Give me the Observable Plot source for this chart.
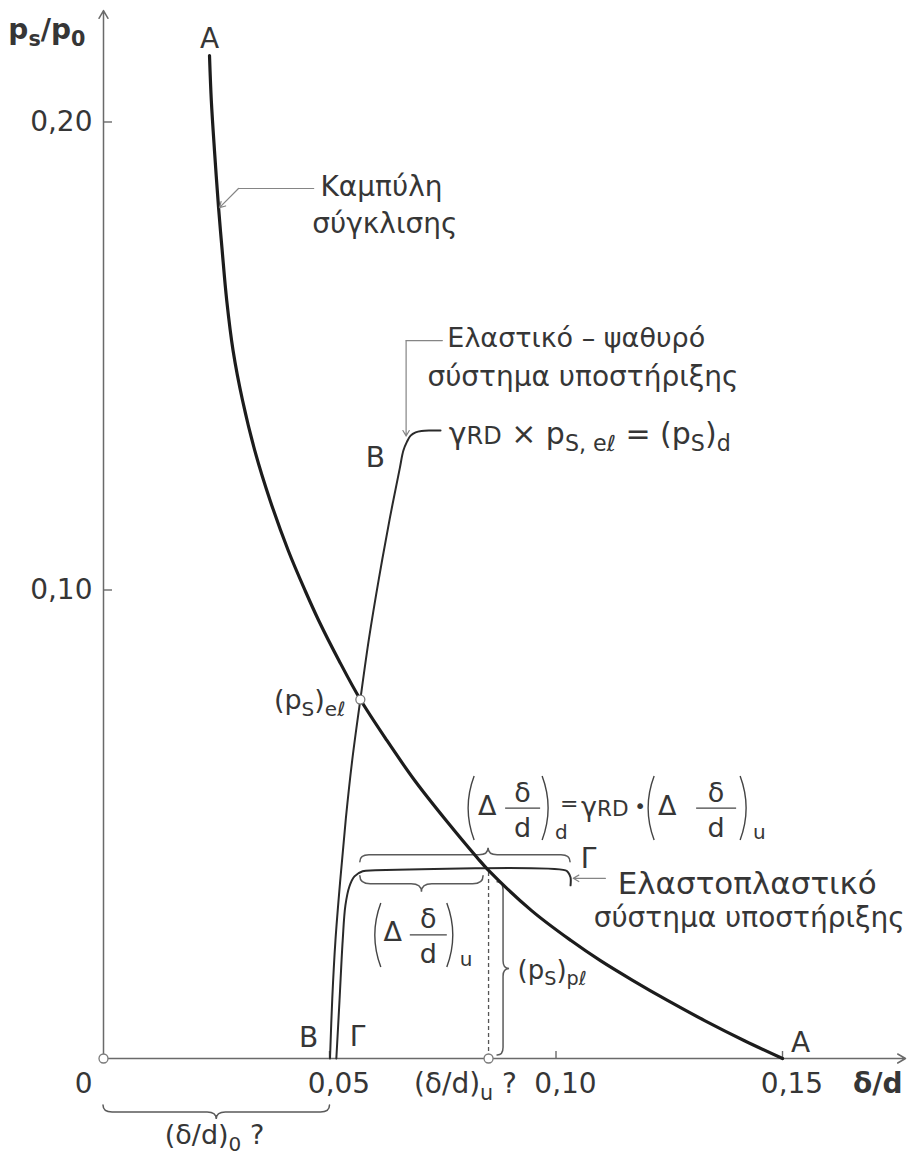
<!DOCTYPE html>
<html lang="el">
<head>
<meta charset="utf-8">
<title>Καμπύλη σύγκλισης</title>
<script src="https://cdn.jsdelivr.net/npm/d3@7"></script>
<script src="https://cdn.jsdelivr.net/npm/@observablehq/plot@0.6"></script>
<style>
  html, body { margin: 0; padding: 0; background: #fff; }
  #chart svg { display: block; }
</style>
</head>
<body>
<div id="chart"></div>
<script>
// Convergence curve A–A: support pressure ps/p0 against convergence δ/d
const convergenceX = [0.0234, 0.0238, 0.0245, 0.0254, 0.0262, 0.0272, 0.0286, 0.0307, 0.0334, 0.0368, 0.0408, 0.0445, 0.0475, 0.0520, 0.0567, 0.0626, 0.0687, 0.0756, 0.0825, 0.0850, 0.0945, 0.1032, 0.1097, 0.1168, 0.1245, 0.1327, 0.1415, 0.1499];
const convergenceY = [0.2143, 0.2047, 0.1940, 0.1818, 0.1726, 0.1620, 0.1513, 0.1406, 0.1299, 0.1192, 0.1085, 0.1000, 0.0936, 0.0850, 0.0767, 0.0679, 0.0594, 0.0509, 0.0429, 0.0402, 0.0316, 0.0252, 0.0209, 0.0167, 0.0124, 0.0081, 0.0038, 0.0000];

// Elastic–brittle support, branch B
const brittleX = [0.0500, 0.0505, 0.0512, 0.0523, 0.0535, 0.0549, 0.0567, 0.0586, 0.0608, 0.0632, 0.0654, 0.0662, 0.0670, 0.0678, 0.0689, 0.0702, 0.0722, 0.0744];
const brittleY = [0.0000, 0.0128, 0.0252, 0.0385, 0.0513, 0.0637, 0.0767, 0.0897, 0.1026, 0.1154, 0.1261, 0.1299, 0.1318, 0.1331, 0.1338, 0.1341, 0.1342, 0.1342];

// Elastoplastic support, branch Γ
const plasticX = [0.0514, 0.0521, 0.0528, 0.0534, 0.0543, 0.0554, 0.0572, 0.0600, 0.1020, 0.1026, 0.1031, 0.1031];
const plasticY = [0.0000, 0.0124, 0.0252, 0.0327, 0.0368, 0.0389, 0.0400, 0.0402, 0.0402, 0.0397, 0.0387, 0.0370];

// Characteristic points
const elasticPoint = [0.0567, 0.0767];   // (ps)eℓ
const ultimateDelta = 0.0850;            // (δ/d)u
const plasticPressure = 0.0402;          // (ps)pℓ
const designDelta = 0.1031;              // end of the Γ plateau
const initialDelta = 0.05;               // (δ/d)0

const xTicks = [0.05, 0.10, 0.15];
const xTickLabels = ["0,05", "0,10", "0,15"];
const yTicks = [0.10, 0.20];
const yTickLabels = ["0,10", "0,20"];

const xMax = 0.17704, yMax = 0.22393;

const zip = (xs, ys) => xs.map((x, i) => ({x, y: ys[i]}));
const convergence = zip(convergenceX, convergenceY);
const brittle = zip(brittleX, brittleY);
const plastic = zip(plasticX, plasticY);

const INK = "#363636";
const AXIS = "#6a6a6a";
const LEADER = "#858585";
const TEXT = 28;

const note = (s, x, y, o = {}) =>
  Plot.text([s], {x, y, text: d => d, fontSize: TEXT, fill: INK, textAnchor: "start", ...o});

// short inward ticks on both axes
function ticks(index, {x, y}) {
  const g = d3.create("svg:g").attr("stroke", AXIS).attr("stroke-width", 1.4);
  for (const v of xTicks) g.append("path").attr("d", `M${x(v)},${y(0)}v-7`);
  for (const v of yTicks) g.append("path").attr("d", `M${x(0)},${y(v)}h9`);
  return g.node();
}

// curly braces measuring the intervals on the diagram
function braces(index, {x, y}) {
  const g = d3.create("svg:g")
    .attr("fill", "none").attr("stroke", "#5a5a5a")
    .attr("stroke-width", 1.5).attr("stroke-linecap", "round");
  const hb = (x1, x2, xt, y0, h) => {
    const q = h / 2, r = Math.abs(q) * 1.3;
    g.append("path").attr("d",
      `M${x1},${y0}Q${x1},${y0 + q} ${x1 + r},${y0 + q}L${xt - r},${y0 + q}` +
      `Q${xt},${y0 + q} ${xt},${y0 + h}Q${xt},${y0 + q} ${xt + r},${y0 + q}` +
      `L${x2 - r},${y0 + q}Q${x2},${y0 + q} ${x2},${y0}`);
  };
  const vb = (y1, y2, yt, x0, h) => {
    const q = h / 2, r = Math.abs(q) * 1.3;
    g.append("path").attr("d",
      `M${x0},${y1}Q${x0 + q},${y1} ${x0 + q},${y1 + r}L${x0 + q},${yt - r}` +
      `Q${x0 + q},${yt} ${x0 + h},${yt}Q${x0 + q},${yt} ${x0 + q},${yt + r}` +
      `L${x0 + q},${y2 - r}Q${x0 + q},${y2} ${x0},${y2}`);
  };
  const ex = x(elasticPoint[0]);
  const xu = x(ultimateDelta);
  const yp = y(plasticPressure);
  hb(x(0), x(initialDelta), (x(0) + x(initialDelta)) / 2, y(0) + 47, 14);
  hb(ex, x(designDelta), xu, yp - 8, -14);
  hb(ex, xu - 5, (ex + xu - 5) / 2, yp + 6, 16);
  vb(yp + 12, y(0) - 3, (yp + 12 + y(0) - 3) / 2, xu + 9, 12);
  return g.node();
}

// (Δ δ/d)d = γRD · (Δ δ/d)u  and the lone (Δ δ/d)u
function formulas(index, {x, y}) {
  const g = d3.create("svg:g").attr("fill", INK);
  const t = (px, py, s, size = 27, anchor = "middle") =>
    g.append("text").attr("x", px).attr("y", py).attr("dy", "0.35em")
      .attr("text-anchor", anchor).attr("font-size", size).text(s);
  const paren = (px, py, side) =>
    g.append("path").attr("fill", "none").attr("stroke", "#444").attr("stroke-width", 1.4)
      .attr("d", `M${px - 6 * side},${py - 32}Q${px + 6 * side},${py} ${px - 6 * side},${py + 32}`);
  const bar = (x1, x2, py) =>
    g.append("path").attr("stroke", "#444").attr("stroke-width", 1.4).attr("d", `M${x1},${py}H${x2}`);
  const group = (px, by, sub, o) => {
    paren(px, by, -1);
    t(px + o.delta, by - 3, "Δ");
    bar(px + o.bar0, px + o.bar1, by);
    t(px + (o.bar0 + o.bar1) / 2, by - 16, "δ");
    t(px + (o.bar0 + o.bar1) / 2, by + 19, "d");
    paren(px + o.close, by, 1);
    t(px + o.sub, by + 24, sub, 20, "start");
  };
  const compact = {delta: 19, bar0: 37, bar1: 72, close: 80, sub: 87};
  const wide = {delta: 19, bar0: 48, bar1: 88, close: 98, sub: 105};

  const px = x(0.0806), by = y(0.0534);
  group(px, by, "d", compact);
  t(px + 101, by - 5, "=", 22);
  t(px + 113, by - 2, "γ~{RD}", 27, "start");
  t(px + 172, by - 2, "•", 20);
  group(px + 180, by, "u", wide);

  group(x(0.0600), y(0.0263), "u", {delta: 18, bar0: 35, bar1: 72, close: 78, sub: 85});
  return g.node();
}

const chart = Plot.plot({
  width: 915,
  height: 1158,
  marginTop: 10,
  marginBottom: 100,
  marginLeft: 103,
  marginRight: 10,
  x: {domain: [0, xMax], axis: null},
  y: {domain: [0, yMax], axis: null},
  style: {fontFamily: "DejaVu Sans", fontSize: "28px", color: INK, background: "#fff"},
  marks: [
    // axes with arrowheads
    Plot.arrow([{x1: 0, y1: 0, x2: xMax, y2: 0}, {x1: 0, y1: 0, x2: 0, y2: yMax}],
      {x1: "x1", y1: "y1", x2: "x2", y2: "y2", stroke: AXIS, strokeWidth: 1.5, headLength: 9}),
    ticks,

    // tick labels
    Plot.text(xTicks, {x: d => d, y: 0, dy: 26, dx: 9, text: (d, i) => xTickLabels[i], fontSize: TEXT, fill: INK}),
    Plot.text(yTicks, {x: 0, y: d => d, dx: -11, text: (d, i) => yTickLabels[i], fontSize: TEXT, fill: INK, textAnchor: "end"}),
    note("0", 0, 0, {dx: -11, dy: 26, textAnchor: "end"}),
    note("δ/d", 0.1709, 0, {dy: 26, textAnchor: "middle", fontWeight: "bold"}),
    note("p_{s}/p_{0}", -0.021, 0.2197, {fontWeight: "bold"}),

    // dashed guide from the plastic limit down to (δ/d)u
    Plot.ruleX([ultimateDelta], {y1: 0, y2: plasticPressure, stroke: "#555", strokeWidth: 1.3, strokeDasharray: "4,3"}),

    braces,

    // the three curves
    Plot.line(brittle, {x: "x", y: "y", curve: "catmull-rom", stroke: "#2a2a2a", strokeWidth: 2}),
    Plot.line(plastic, {x: "x", y: "y", curve: "catmull-rom", stroke: "#2a2a2a", strokeWidth: 2}),
    Plot.line(convergence, {x: "x", y: "y", curve: "catmull-rom", stroke: "#1c1c1c", strokeWidth: 3.2}),

    // leaders to the curve names
    Plot.line([{x: 0.0464, y: 0.1859}, {x: 0.0298, y: 0.1859}], {x: "x", y: "y", stroke: LEADER, strokeWidth: 1.2}),
    Plot.line([{x: 0.0748, y: 0.1534}, {x: 0.0668, y: 0.1534}], {x: "x", y: "y", stroke: LEADER, strokeWidth: 1.2}),
    Plot.arrow([
      {x1: 0.0298, y1: 0.1859, x2: 0.0256, y2: 0.1818},
      {x1: 0.0668, y1: 0.1534, x2: 0.0668, y2: 0.1330},
      {x1: 0.1108, y1: 0.0385, x2: 0.1037, y2: 0.0385}
    ], {x1: "x1", y1: "y1", x2: "x2", y2: "y2", stroke: LEADER, strokeWidth: 1.2, headLength: 8}),

    // open markers
    Plot.dot([[0, 0], [ultimateDelta, 0], elasticPoint],
      {x: d => d[0], y: d => d[1], r: 4.5, fill: "#fff", stroke: "#7a7a7a", strokeWidth: 1.3}),

    formulas,

    // curve letters
    note("A", 0.0234, 0.2179, {textAnchor: "middle"}),
    note("A", 0.1539, 0.0034, {textAnchor: "middle"}),
    note("B", 0.0600, 0.1284, {textAnchor: "middle"}),
    note("B", 0.0453, 0.0043, {textAnchor: "middle"}),
    note("Γ", 0.0561, 0.0045, {textAnchor: "middle"}),
    note("Γ", 0.1071, 0.0427, {textAnchor: "middle"}),

    // curve names and values
    note("Καμπύλη", 0.0479, 0.1863),
    note("σύγκλισης", 0.0461, 0.1782),
    note("Ελαστικό – ψαθυρό", 0.0759, 0.1538, {fontSize: 27}),
    note("σύστημα υποστήριξης", 0.0715, 0.1457),
    note("γ~{RD} × p_{S, eℓ} = (p_{S})_{d}", 0.0762, 0.1333, {fontSize: 30}),
    note("Ελαστοπλαστικό", 0.1135, 0.0373, {fontSize: 31}),
    note("σύστημα υποστήριξης", 0.1082, 0.0301),
    note("(p_{S})_{eℓ}", 0.0534, 0.0765, {textAnchor: "end", fontSize: 27}),
    note("(p_{S})_{pℓ}", 0.0914, 0.0188, {fontSize: 26}),
    note("(δ/d)_{u} ?", 0.0799, 0, {dy: 26, textAnchor: "middle"}),
    note("(δ/d)_{0} ?", 0.0245, -0.0165, {textAnchor: "middle", fontSize: 27})
  ]
});

document.getElementById("chart").appendChild(chart);

// turn _{…} into lowered small text and ~{…} into small text on the baseline
(function applyMarkup(root) {
  const ns = "http://www.w3.org/2000/svg";
  for (const t of root.querySelectorAll("text")) {
    const s = t.textContent;
    if (!/[_~]\{/.test(s)) continue;
    const fs = parseFloat(getComputedStyle(t).fontSize);
    while (t.firstChild) t.removeChild(t.firstChild);
    let shift = 0;
    for (const part of s.split(/([_~]\{[^}]*\})/).filter(p => p)) {
      const span = document.createElementNS(ns, "tspan");
      let target = 0, str = part;
      if ((part[0] === "_" || part[0] === "~") && part[1] === "{") {
        str = part.slice(2, -1);
        span.setAttribute("font-size", (fs * (part[0] === "_" ? 0.74 : 0.8)).toFixed(1));
        target = part[0] === "_" ? fs * 0.24 : 0;
      }
      if (target !== shift) span.setAttribute("dy", (target - shift).toFixed(1));
      shift = target;
      span.textContent = str;
      t.appendChild(span);
    }
  }
})(chart);
</script>
</body>
</html>
